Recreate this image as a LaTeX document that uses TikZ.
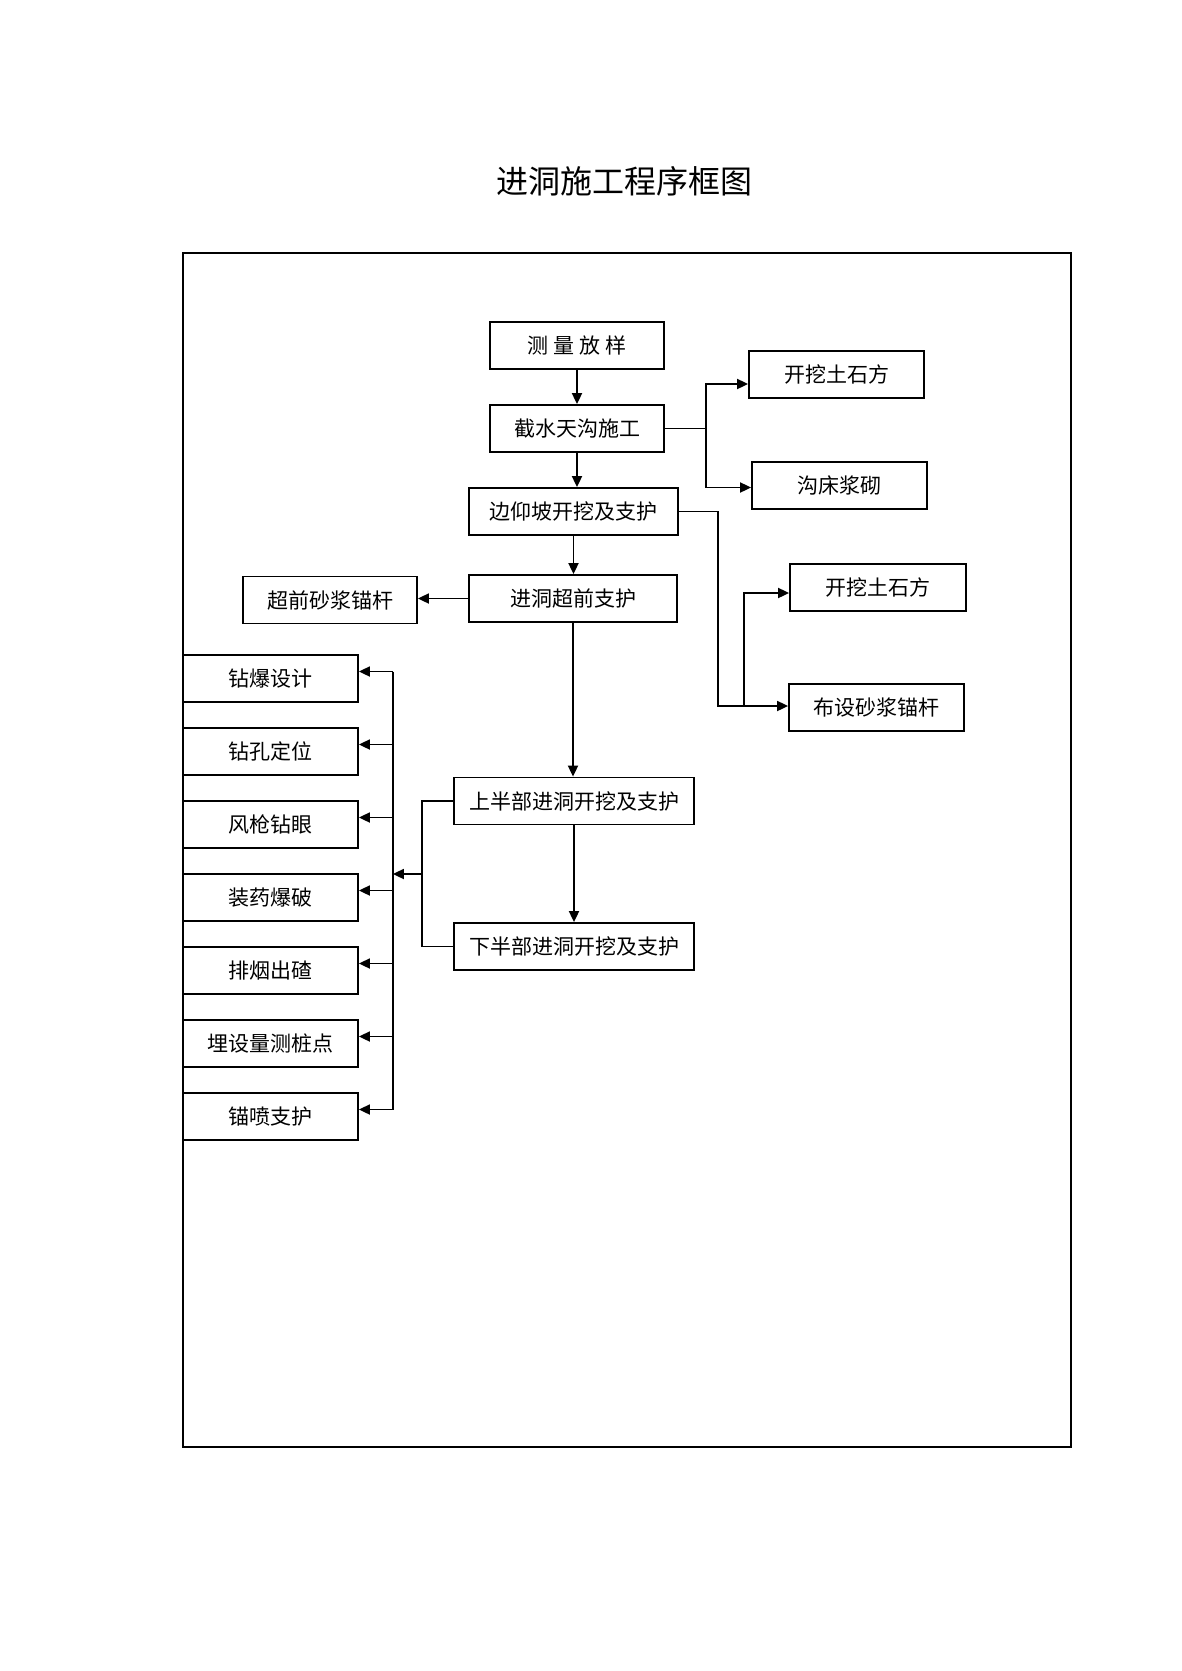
\documentclass[tikz,border=0pt]{standalone}
\usepackage{fontspec}
\setmainfont{Noto Sans CJK SC}
\usetikzlibrary{arrows.meta}
\tikzset{
  box/.style={draw,line width=0.9pt,minimum height=23.5pt,inner sep=0pt,font=\fontsize{10.5pt}{12pt}\selectfont},
  ln/.style={line width=0.9pt},
  arr/.style={line width=0.9pt,-{Triangle[length=5.5pt,width=5pt]}}
}
\begin{document}
\begin{tikzpicture}[x=0.5pt,y=-0.5pt]
    \useasboundingbox (0,0) rectangle (1182,1671);
    \node (title) at (624,181) {\fontsize{16pt}{19pt}\selectfont 进洞施工程序框图};
    \draw[ln] (183,253) rectangle (1071,1447);

    % main line
    \node[box,minimum width=87pt] (cl) at (577,345.5) {测 量 放 样};
    \node[box,minimum width=87pt] (jsg) at (577,428.5) {截水天沟施工};
    \node[box,minimum width=104.5pt] (byp) at (573.5,511.5) {边仰坡开挖及支护};
    \node[box,minimum width=104pt] (cq) at (573,598.5) {进洞超前支护};
    \node[box,minimum width=120pt] (sb) at (574,801) {上半部进洞开挖及支护};
    \node[box,minimum width=120pt] (xb) at (574,946.5) {下半部进洞开挖及支护};

    % side boxes
    \node[box,minimum width=87.5pt] (ks1) at (836.5,374.5) {开挖土石方};
    \node[box,minimum width=87.5pt] (gc) at (839.5,485.5) {沟床浆砌};
    \node[box,minimum width=88pt] (ks2) at (878,587.5) {开挖土石方};
    \node[box,minimum width=87.5pt] (bs) at (876.5,707.5) {布设砂浆锚杆};
    \node[box,minimum width=87pt] (mg) at (330,600) {超前砂浆锚杆};

    % cycle boxes
    \node[box,minimum width=87.5pt] (k1) at (270.5,678.5) {钻爆设计};
    \node[box,minimum width=87.5pt] (k2) at (270.5,751.5) {钻孔定位};
    \node[box,minimum width=87.5pt] (k3) at (270.5,824.5) {风枪钻眼};
    \node[box,minimum width=87.5pt] (k4) at (270.5,897.5) {装药爆破};
    \node[box,minimum width=87.5pt] (k5) at (270.5,970.5) {排烟出碴};
    \node[box,minimum width=87.5pt] (k6) at (270.5,1043.5) {埋设量测桩点};
    \node[box,minimum width=87.5pt] (k7) at (270.5,1116.5) {锚喷支护};

    \draw[arr] (cl.south) -- (jsg.north);
    \draw[arr] (jsg.south) -- (jsg.south |- byp.north);
    \draw[arr] (byp.south) -- (byp.south |- cq.north);
    \draw[arr] (cq.south) -- (cq.south |- sb.north);
    \draw[arr] (sb.south) -- (xb.north);
    \draw[arr] (cq.west) -- (cq.west -| mg.east);

    \coordinate (j1) at (706,428.5);
    \draw[ln] (jsg.east) -- (j1);
    \draw[arr] (j1) |- ([yshift=-4.75pt]ks1.west);
    \draw[arr] (j1) |- ([yshift=-1pt]gc.west);

    \coordinate (j2) at (718,706);
    \coordinate (j3) at (744,706);
    \draw[ln] (byp.east) -| (j2) -- (j3);
    \draw[arr] (j3) |- ([yshift=-2.75pt]ks2.west);
    \draw[arr] (j3) -- (j3 -| bs.west);

    \coordinate (j4) at (422,874);
    \coordinate (bus) at ([shift={(34,0)}]k1.east);
    \draw[ln] (sb.west) -| (j4) |- (xb.west);
    \draw[arr] (j4) -- (j4 -| bus);
    \draw[ln] ([shift={(34,-7)}]k1.east) -- ([shift={(34,-7)}]k7.east);
    \foreach \i in {1,...,7}
        \draw[arr] ([shift={(34,-7)}]k\i.east) -- ([shift={(0,-7)}]k\i.east);
\end{tikzpicture}
\end{document}
